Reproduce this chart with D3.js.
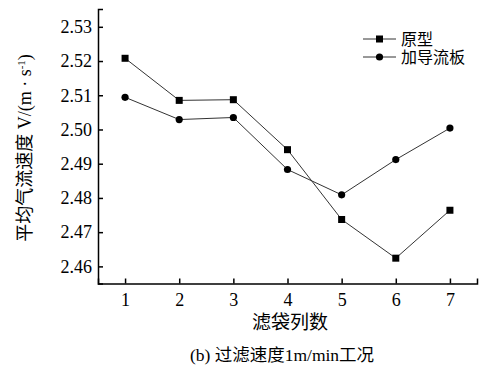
<!DOCTYPE html>
<html>
<head>
<meta charset="utf-8">
<script src="https://cdn.jsdelivr.net/npm/d3@7"></script>
<style>
  body { margin: 0; background: #fff; }
  svg { display: block; }
  .axis path, .axis line { stroke: #000; stroke-width: 1.5px; }
  .axis text { font-family: "Liberation Serif", "Times New Roman", serif; font-size: 18px; fill: #000; }
  .series { fill: none; stroke: #333; stroke-width: 1px; }
  .label { font-family: "Liberation Serif", "Noto Sans CJK SC", serif; fill: #000; }
</style>
</head>
<body>
<div id="chart"></div>
<script>
const columns = [1, 2, 3, 4, 5, 6, 7]
const yTicks = [2.46, 2.47, 2.48, 2.49, 2.50, 2.51, 2.52, 2.53]
const prototype = [2.5208, 2.5085, 2.5087, 2.4941, 2.4737, 2.4624, 2.4764]
const withBaffle = [2.5094, 2.5029, 2.5035, 2.4883, 2.4809, 2.4912, 2.5004]
const seriesNames = ['原型', '加导流板']

const W = 487, H = 373

const svg = d3.select('#chart').append('svg')
    .attr('width', W)
    .attr('height', H)

const x = d3.scaleLinear()
  .domain([0.5, 7.5])
  .range([98, 477])
const y = d3.scaleLinear()
  .domain([2.455, 2.5352])
  .range([283.5, 9])

// axes
svg.append('g')
    .attr('class', 'axis')
    .attr('transform', 'translate(0,283.5)')
    .call(d3.axisBottom(x).tickValues(columns).tickFormat(d3.format('d'))
      .tickSizeInner(-5).tickSizeOuter(-5).tickPadding(10))

svg.append('g')
    .attr('class', 'axis')
    .attr('transform', 'translate(98,0)')
    .call(d3.axisLeft(y).tickValues(yTicks).tickFormat(d3.format('.2f'))
      .tickSizeInner(-5).tickSizeOuter(-5).tickPadding(6))

// lines + markers
const line = d3.line()
  .x((d, i) => x(columns[i]))
  .y(d => y(d))

svg.append('path').attr('class', 'series').attr('d', line(prototype))
svg.append('path').attr('class', 'series').attr('d', line(withBaffle))

svg.selectAll('rect.pt')
  .data(prototype)
  .join('rect')
    .attr('class', 'pt')
    .attr('x', (d, i) => x(columns[i]) - 3.5)
    .attr('y', d => y(d) - 3.5)
    .attr('width', 7)
    .attr('height', 7)
    .attr('fill', '#000')

svg.selectAll('circle.pt')
  .data(withBaffle)
  .join('circle')
    .attr('class', 'pt')
    .attr('cx', (d, i) => x(columns[i]))
    .attr('cy', d => y(d))
    .attr('r', 3.6)
    .attr('fill', '#000')

// legend
const legend = svg.append('g').attr('transform', 'translate(363,39)')
seriesNames.forEach((name, i) => {
  const g = legend.append('g').attr('transform', `translate(0,${i * 18})`)
  g.append('line')
      .attr('x1', 0).attr('x2', 33)
      .attr('stroke', '#333').attr('stroke-width', 1)
  if (i === 0) {
    g.append('rect').attr('x', 13).attr('y', -3.5).attr('width', 7).attr('height', 7).attr('fill', '#000')
  } else {
    g.append('circle').attr('cx', 16.5).attr('r', 3.6).attr('fill', '#000')
  }
  g.append('text')
      .attr('class', 'label')
      .attr('x', 38)
      .attr('dy', '0.35em')
      .style('font-size', '16px')
      .text(name)
})

// axis titles
svg.append('text')
    .attr('class', 'label')
    .attr('transform', 'translate(25,148) rotate(-90)')
    .attr('text-anchor', 'middle')
    .attr('dy', '0.35em')
    .style('font-size', '18px')
    .call(t => {
      t.append('tspan').text('平均气流速度 V/(m · s')
      t.append('tspan').attr('baseline-shift', 'super').style('font-size', '11px').text('-1')
      t.append('tspan').text(')')
    })

svg.append('text')
    .attr('class', 'label')
    .attr('x', 290)
    .attr('y', 322)
    .attr('text-anchor', 'middle')
    .attr('dy', '0.35em')
    .style('font-size', '19px')
    .text('滤袋列数')

svg.append('text')
    .attr('class', 'label')
    .attr('x', 282)
    .attr('y', 355)
    .attr('text-anchor', 'middle')
    .attr('dy', '0.35em')
    .style('font-size', '17.5px')
    .text('(b) 过滤速度1m/min工况')
</script>
</body>
</html>
